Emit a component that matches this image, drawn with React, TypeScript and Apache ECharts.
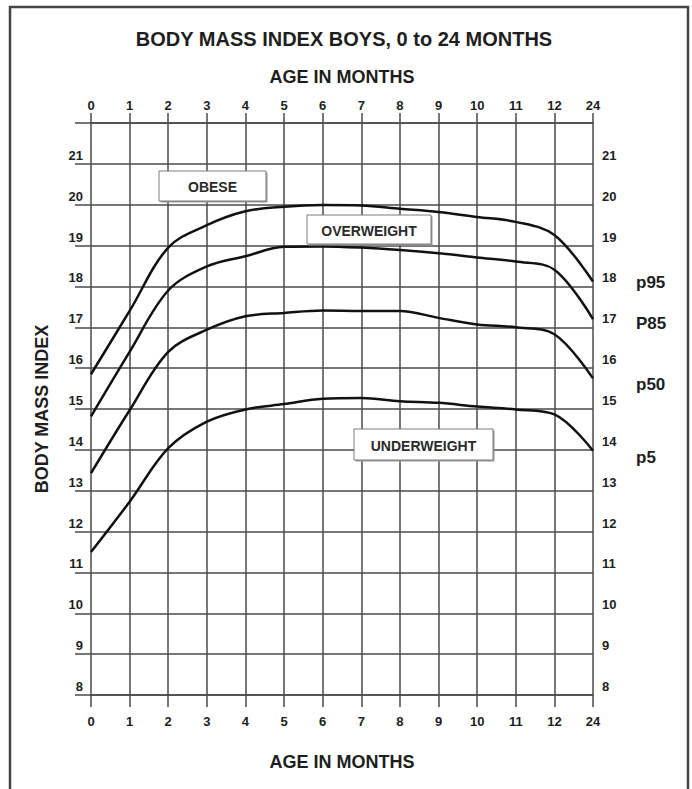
import React, { useEffect, useRef } from "react";
import * as echarts from "echarts";

const AGE_CATEGORIES = ["0", "1", "2", "3", "4", "5", "6", "7", "8", "9", "10", "11", "12", "24"];
const P95 = [15.85, 17.4, 18.95, 19.5, 19.84, 19.95, 19.99, 19.98, 19.9, 19.82, 19.7, 19.58, 19.26, 18.12];
const P85 = [14.82, 16.4, 17.9, 18.49, 18.74, 18.97, 18.98, 18.95, 18.89, 18.81, 18.71, 18.61, 18.41, 17.2];
const P50 = [13.43, 14.97, 16.4, 16.94, 17.27, 17.35, 17.41, 17.4, 17.4, 17.23, 17.07, 17.0, 16.83, 15.75];
const P5 = [11.5, 12.73, 14.04, 14.69, 14.99, 15.12, 15.25, 15.27, 15.19, 15.15, 15.06, 14.99, 14.87, 13.98];
const SERIES_NAMES = ["p95", "P85", "p50", "p5"];
const BMI_MIN = 8;
const BMI_MAX = 22;

const FONT = "'Liberation Sans', Arial, sans-serif";
const GRID_COLOR = "#4a4a4a";
const TEXT_COLOR = "#1e1e1e";

function boxLabel(x: number, y: number, w: number, h: number, text: string) {
  return {
    type: "group",
    z: 100,
    children: [
      {
        type: "rect",
        z: 100,
        shape: { x: x + 1.5, y: y + 1.5, width: w, height: h },
        style: { fill: "#9a9a9a" },
      },
      {
        type: "rect",
        z: 101,
        shape: { x, y, width: w, height: h },
        style: { fill: "#ffffff", stroke: "#7a7a7a", lineWidth: 1 },
      },
      {
        type: "text",
        z: 102,
        x: x + w / 2,
        y: y + h / 2 + 1,
        style: {
          text,
          fontFamily: FONT,
          fontSize: 14,
          fontWeight: "bold",
          fill: "#2a2a2a",
          align: "center",
          verticalAlign: "middle",
        },
      },
    ],
  };
}

function sideLabel(y: number, text: string) {
  return {
    type: "text",
    x: 636,
    y,
    style: {
      text,
      fontFamily: FONT,
      fontSize: 17,
      fontWeight: "bold",
      fill: TEXT_COLOR,
      align: "left",
      verticalAlign: "middle",
    },
  };
}

export default function App() {
  const ref = useRef<HTMLDivElement>(null);

  useEffect(() => {
    if (!ref.current) return;
    const chart = echarts.init(ref.current, undefined, { renderer: "svg" });
    const yLabelFormatter = (v: number) => (v === BMI_MAX ? "" : String(v));
    const tickLabelStyle = {
      fontFamily: FONT,
      fontSize: 13,
      fontWeight: "bold",
      color: TEXT_COLOR,
    };
    const nameStyle = {
      fontFamily: FONT,
      fontSize: 18,
      fontWeight: "bold",
      color: TEXT_COLOR,
    };
    const seriesData = [P95, P85, P50, P5];

    chart.setOption({
      animation: false,
      backgroundColor: "#ffffff",
      title: {
        text: "BODY MASS INDEX BOYS, 0 to 24 MONTHS",
        left: 339,
        textAlign: "center",
        top: 24,
        textStyle: {
          fontFamily: FONT,
          fontSize: 20,
          fontWeight: "bold",
          color: TEXT_COLOR,
        },
      },
      grid: { left: 91, right: 99, top: 123, bottom: 94 },
      xAxis: [
        {
          type: "category",
          position: "bottom",
          data: AGE_CATEGORIES,
          boundaryGap: false,
          axisLine: { show: true, lineStyle: { color: GRID_COLOR, width: 1.5 } },
          axisTick: { show: true, length: 12, interval: 0, lineStyle: { color: GRID_COLOR, width: 1.5 } },
          axisLabel: { interval: 0, margin: 20, ...tickLabelStyle },
          splitLine: { show: true, interval: 0, lineStyle: { color: GRID_COLOR, width: 1.5 } },
          name: "AGE IN MONTHS",
          nameLocation: "middle",
          nameGap: 58,
          nameTextStyle: nameStyle,
        },
        {
          type: "category",
          position: "top",
          data: AGE_CATEGORIES,
          boundaryGap: false,
          axisLine: { show: true, lineStyle: { color: GRID_COLOR, width: 1.5 } },
          axisTick: { show: true, length: 10, interval: 0, lineStyle: { color: GRID_COLOR, width: 1.5 } },
          axisLabel: { interval: 0, margin: 11, ...tickLabelStyle },
          splitLine: { show: false },
          name: "AGE IN MONTHS",
          nameLocation: "middle",
          nameGap: 37,
          nameTextStyle: nameStyle,
        },
      ],
      yAxis: [
        {
          type: "value",
          position: "left",
          min: BMI_MIN,
          max: BMI_MAX,
          interval: 1,
          axisLine: { show: false },
          axisTick: { show: true, length: 16, lineStyle: { color: GRID_COLOR, width: 1.5 } },
          axisLabel: {
            margin: 8,
            verticalAlign: "bottom",
            padding: [0, 0, 2, 0],
            formatter: yLabelFormatter,
            ...tickLabelStyle,
          },
          splitLine: { show: true, lineStyle: { color: GRID_COLOR, width: 1.5 } },
          name: "BODY MASS INDEX",
          nameLocation: "middle",
          nameRotate: 90,
          nameGap: 40,
          nameTextStyle: nameStyle,
        },
        {
          type: "value",
          position: "right",
          min: BMI_MIN,
          max: BMI_MAX,
          interval: 1,
          axisLine: { show: false },
          axisTick: { show: false },
          axisLabel: {
            margin: 9,
            verticalAlign: "bottom",
            padding: [0, 0, 2, 0],
            formatter: yLabelFormatter,
            ...tickLabelStyle,
          },
          splitLine: { show: false },
        },
      ],
      series: seriesData.map((data, i) => ({
        name: SERIES_NAMES[i],
        type: "line",
        xAxisIndex: 0,
        yAxisIndex: 0,
        data,
        smooth: 0.35,
        symbol: "none",
        lineStyle: { color: "#111111", width: 2.5 },
        z: 5,
      })),
      graphic: [
        {
          type: "rect",
          shape: { x: 10, y: 7, width: 678, height: 800 },
          style: { fill: "none", stroke: "#444444", lineWidth: 2.5 },
          silent: true,
        },
        boxLabel(159, 171, 107, 30, "OBESE"),
        boxLabel(307, 215, 124, 29, "OVERWEIGHT"),
        boxLabel(354, 429, 139, 31, "UNDERWEIGHT"),
        sideLabel(282, SERIES_NAMES[0]),
        sideLabel(323, SERIES_NAMES[1]),
        sideLabel(384, SERIES_NAMES[2]),
        sideLabel(457, SERIES_NAMES[3]),
      ],
    });

    return () => chart.dispose();
  }, []);

  return (
    <div
      ref={ref}
      style={{ position: "absolute", left: 0, top: 0, width: 692, height: 789 }}
    />
  );
}
